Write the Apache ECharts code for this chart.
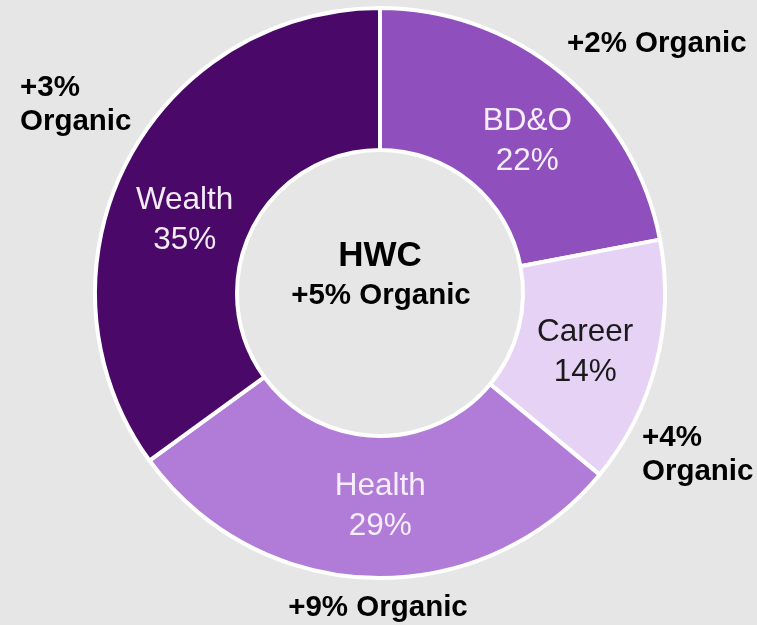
<!DOCTYPE html>
<html>
<head>
<meta charset="utf-8">
<script src="https://cdn.jsdelivr.net/npm/echarts@6/dist/echarts.min.js"></script>
<style>
  html, body { margin: 0; padding: 0; background: #e6e6e6; }
  #chart { width: 757px; height: 625px; }
</style>
</head>
<body>
<div id="chart"></div>
<script>
// segments, clockwise from 12 o'clock
var segments = ['BD&O', 'Career', 'Health', 'Wealth'];
var shares = [22, 14, 29, 35];
var organic = ['+2%', '+4%', '+9%', '+3%'];
var colors = ['#8f4fbd', '#e6d2f4', '#b17bd8', '#4a0868'];
var labelColors = ['#f6eefc', '#1a1a1a', '#f6eefc', '#f3ecf7'];
// nudge the inside labels a bit, like the original slide
var labelShift = [[9, 16], [-5, 5], [7, -4], [-2, 26]];

var centerTitle = 'HWC';
var centerOrganic = '+5%';

var myChart = echarts.init(document.getElementById('chart'));

var bold = {
    fontFamily: 'Liberation Sans, Arial, sans-serif',
    fontWeight: 'bold',
    fontSize: 29.5,
    fill: '#000'
};

function outsideText(x, y, text, align) {
    return {
        type: 'text',
        x: x,
        y: y,
        style: Object.assign({}, bold, {
            text: text,
            textAlign: align || 'left',
            textVerticalAlign: 'middle',
            lineHeight: 34
        })
    };
}

var option = {
    backgroundColor: '#e6e6e6',
    animation: false,
    series: [
        {
            type: 'pie',
            center: [380, 293],
            radius: [143, 285],
            startAngle: 90,
            clockwise: true,
            avoidLabelOverlap: false,
            itemStyle: {
                borderColor: '#ffffff',
                borderWidth: 4
            },
            label: {
                position: 'inside',
                fontFamily: 'Liberation Sans, Arial, sans-serif',
                fontSize: 31.5,
                lineHeight: 40,
                formatter: function (p) {
                    return p.name + '\n' + p.value + '%';
                }
            },
            labelLine: { show: false },
            emphasis: { disabled: true },
            data: segments.map(function (name, i) {
                return {
                    name: name,
                    value: shares[i],
                    itemStyle: { color: colors[i] },
                    label: { color: labelColors[i], offset: labelShift[i] }
                };
            })
        }
    ],
    graphic: [
        {
            type: 'text',
            x: 380,
            y: 256,
            style: Object.assign({}, bold, {
                text: centerTitle,
                fontSize: 35,
                textAlign: 'center',
                textVerticalAlign: 'middle'
            })
        },
        {
            type: 'text',
            x: 381,
            y: 296,
            style: Object.assign({}, bold, {
                text: centerOrganic + ' Organic',
                textAlign: 'center',
                textVerticalAlign: 'middle'
            })
        },
        outsideText(567, 44, organic[0] + ' Organic'),
        outsideText(642, 455, organic[1] + '\nOrganic'),
        outsideText(378, 608, organic[2] + ' Organic', 'center'),
        outsideText(20, 105, organic[3] + '\nOrganic')
    ]
};

myChart.setOption(option);
</script>
</body>
</html>
